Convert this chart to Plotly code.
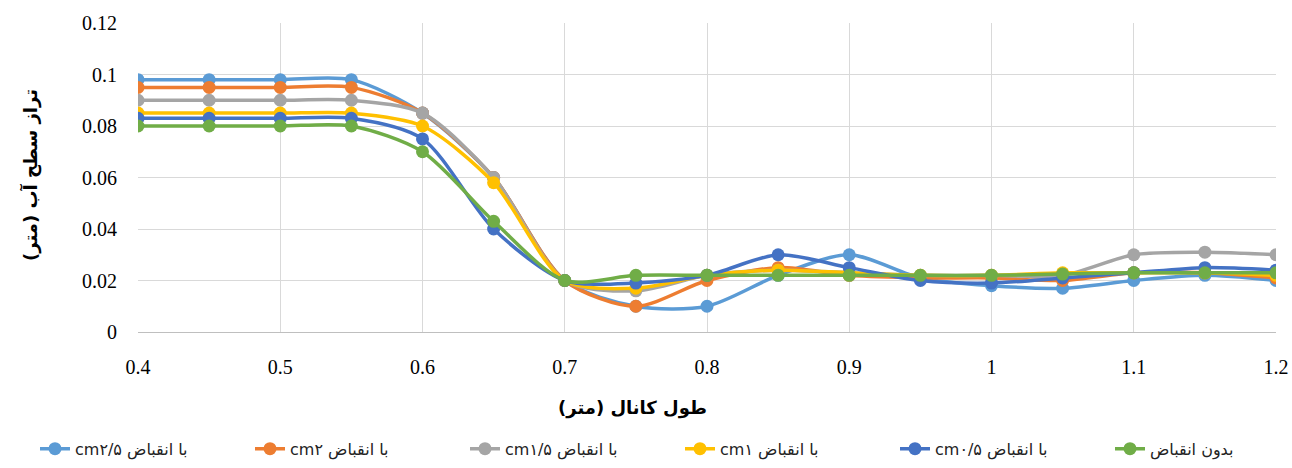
import plotly.graph_objects as go

x_vals = [0.4, 0.45, 0.5, 0.55, 0.6, 0.65, 0.7, 0.75, 0.8, 0.85, 0.9, 0.95, 1.0, 1.05, 1.1, 1.15, 1.2]

names = ["cm۲/۵ با انقباض", "cm۲ با انقباض", "cm۱/۵ با انقباض", "cm۱ با انقباض", "cm۰/۵ با انقباض", "بدون انقباض"]
colors = ["#5B9BD5", "#ED7D31", "#A5A5A5", "#FFC000", "#4472C4", "#70AD47"]

y_25 = [0.098, 0.098, 0.098, 0.098, 0.085, 0.060, 0.020, 0.010, 0.010, 0.022, 0.030, 0.021, 0.018, 0.017, 0.020, 0.022, 0.020]
y_20 = [0.095, 0.095, 0.095, 0.095, 0.085, 0.060, 0.020, 0.010, 0.020, 0.025, 0.022, 0.021, 0.021, 0.020, 0.023, 0.023, 0.021]
y_15 = [0.090, 0.090, 0.090, 0.090, 0.085, 0.060, 0.020, 0.016, 0.022, 0.024, 0.023, 0.022, 0.022, 0.022, 0.030, 0.031, 0.030]
y_10 = [0.085, 0.085, 0.085, 0.085, 0.080, 0.058, 0.020, 0.017, 0.022, 0.024, 0.023, 0.022, 0.022, 0.023, 0.023, 0.023, 0.022]
y_05 = [0.083, 0.083, 0.083, 0.083, 0.075, 0.040, 0.020, 0.019, 0.022, 0.030, 0.025, 0.020, 0.019, 0.021, 0.023, 0.025, 0.024]
y_00 = [0.080, 0.080, 0.080, 0.080, 0.070, 0.043, 0.020, 0.022, 0.022, 0.022, 0.022, 0.022, 0.022, 0.0225, 0.023, 0.023, 0.023]

series = [y_25, y_20, y_15, y_10, y_05, y_00]

x_title = "طول کانال (متر)"
y_title = "تراز سطح آب (متر)"

fig = go.Figure()
for i, (name, color, ys) in enumerate(zip(names, colors, series)):
    fig.add_trace(go.Scatter(
        x=x_vals, y=ys, name=name, mode="lines+markers",
        line=dict(color=color, width=3.5, shape="spline", smoothing=0.8),
        marker=dict(color=color, size=13),
        legend="legend" if i < 3 else "legend2",
    ))

legend_common = dict(
    orientation="h", xanchor="left",
    yref="container", y=0.041, yanchor="middle",
    font=dict(family="DejaVu Sans", size=16, color="#222222"),
    entrywidth=170, entrywidthmode="pixels",
    traceorder="normal", bgcolor="rgba(0,0,0,0)",
)

fig.update_layout(
    width=1292, height=468,
    margin=dict(l=138, r=16, t=23, b=136, autoexpand=False),
    plot_bgcolor="white", paper_bgcolor="white",
    font=dict(family="'Liberation Serif', 'Times New Roman', serif", size=20, color="#000000"),
    showlegend=True,
    legend=dict(xref="container", x=35 / 1292, **legend_common),
    legend2=dict(xref="container", x=680 / 1292, **legend_common),
    annotations=[
        dict(text="<b>" + x_title + "</b>", xref="paper", yref="paper",
             x=(632 - 138) / 1138, y=-(408 - 332) / 309, xanchor="center", yanchor="middle",
             showarrow=False, font=dict(family="DejaVu Sans", size=18, color="#000000")),
        dict(text="<b>" + y_title + "</b>", xref="paper", yref="paper",
             x=-(138 - 30) / 1138, y=(332 - 175) / 309, xanchor="center", yanchor="middle",
             textangle=-90, showarrow=False,
             font=dict(family="DejaVu Sans", size=18, color="#000000")),
    ],
)
fig.update_xaxes(
    range=[0.4, 1.2], tickmode="array",
    tickvals=[0.4, 0.5, 0.6, 0.7, 0.8, 0.9, 1.0, 1.1, 1.2],
    ticktext=["0.4", "0.5", "0.6", "0.7", "0.8", "0.9", "1", "1.1", "1.2"],
    showgrid=True, gridcolor="#D9D9D9", gridwidth=1,
    showline=True, linecolor="#BFBFBF", linewidth=1,
    zeroline=False, ticks="", ticklabelstandoff=17,
)
fig.update_yaxes(
    range=[0, 0.12], tickmode="array",
    tickvals=[0, 0.02, 0.04, 0.06, 0.08, 0.1, 0.12],
    ticktext=["0", "0.02", "0.04", "0.06", "0.08", "0.1", "0.12"],
    showgrid=True, gridcolor="#D9D9D9", gridwidth=1,
    showline=False, zeroline=False, ticks="", ticklabelstandoff=20,
)

fig.write_html("out.html")
